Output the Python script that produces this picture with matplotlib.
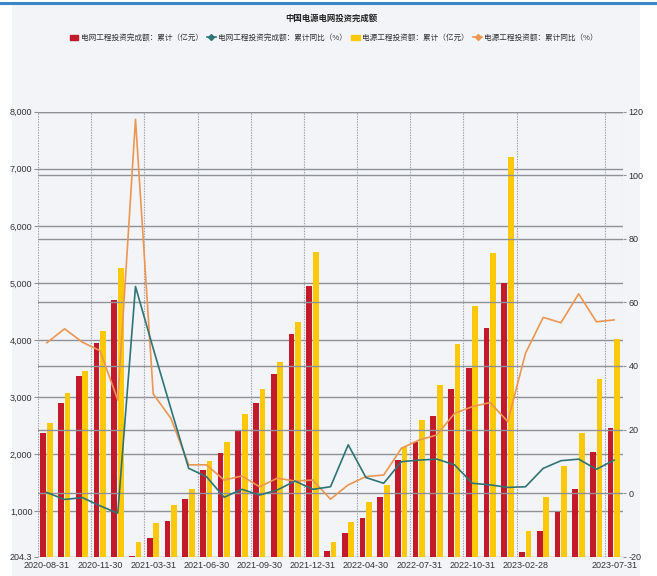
import matplotlib
matplotlib.use("Agg")
import matplotlib.pyplot as plt
from matplotlib.patches import Rectangle
from matplotlib.lines import Line2D
import numpy as np

plt.rcParams['font.family'] = ['Noto Sans CJK SC', 'DejaVu Sans']

dates = ["2020-08-31", "2020-09-30", "2020-10-31", "2020-11-30", "2020-12-31",
         "2021-02-28", "2021-03-31", "2021-04-30", "2021-05-31", "2021-06-30",
         "2021-07-31", "2021-08-31", "2021-09-30", "2021-10-31", "2021-11-30",
         "2021-12-31", "2022-02-28", "2022-03-31", "2022-04-30", "2022-05-31",
         "2022-06-30", "2022-07-31", "2022-08-31", "2022-09-30", "2022-10-31",
         "2022-11-30", "2022-12-31", "2023-02-28", "2023-03-31", "2023-04-30",
         "2023-05-31", "2023-06-30", "2023-07-31"]

grid_inv = [2376, 2891, 3370, 3942, 4701,
            215, 526, 835, 1220, 1723,
            2026, 2406, 2891, 3405, 4100,
            4952, 304, 614, 887, 1255,
            1898, 2219, 2669, 3147, 3504,
            4205, 5004, 292, 654, 981,
            1390, 2044, 2464]

power_inv = [2551, 3077, 3463, 4163, 5256,
             467, 789, 1110, 1385, 1886,
             2219, 2699, 3137, 3620, 4310,
             5547, 456, 807, 1168, 1460,
             2131, 2599, 3212, 3925, 4596,
             5530, 7212, 659, 1255, 1793,
             2376, 3311, 4012]

grid_yoy = [0.2, -2.0, -1.4, -4.0, -6.3,
            65.0, 45.5, 26.5, 7.8, 5.2,
            -1.3, 1.2, -0.6, 1.0, 3.8,
            1.2, 2.0, 15.2, 4.9, 3.1,
            9.9, 10.4, 10.7, 8.9, 3.1,
            2.6, 1.8, 2.0, 7.8, 10.2,
            10.7, 7.5, 10.4]

power_yoy = [47.3, 51.7, 47.5, 44.8, 29.3,
             117.6, 31.2, 23.5, 8.9, 8.9,
             4.1, 5.4, 2.0, 4.7, 3.8,
             4.1, -1.9, 2.6, 5.2, 5.7,
             14.1, 16.7, 18.3, 25.1, 27.2,
             28.5, 22.5, 44.0, 55.3, 53.6,
             62.7, 53.9, 54.5]

title = "中国电源电网投资完成额"
names = ["电网工程投资完成额：累计（亿元）", "电网工程投资完成额：累计同比（%）",
         "电源工程投资额：累计（亿元）", "电源工程投资额：累计同比（%）"]

left_ticks = [204.3, 1000, 2000, 3000, 4000, 5000, 6000, 7000, 8000]
left_labels = ["204.3", "1,000", "2,000", "3,000", "4,000", "5,000", "6,000", "7,000", "8,000"]
right_ticks = [-20, 0, 20, 40, 60, 80, 100, 120]
label_idx = [0, 3, 6, 9, 12, 15, 18, 21, 24, 27, 32]

RED = '#c21a2b'
YEL = '#fcc80a'
TEAL = '#2f7475'
ORG = '#ec9652'
GRID = '#8e9296'
TXT = '#333333'
numfont = ['Liberation Sans Narrow', 'Liberation Sans', 'DejaVu Sans']

W, H = 657, 576
fig = plt.figure(figsize=(W / 100, H / 100), dpi=100)
fig.patch.set_facecolor('white')
fig.patches.append(Rectangle((12 / W, 0), (640 - 12) / W, 1 - 5 / H,
                             transform=fig.transFigure, facecolor='#f2f4f7',
                             edgecolor='none', zorder=0))
fig.lines.append(Line2D([0, 1], [1 - 3 / H, 1 - 3 / H], transform=fig.transFigure,
                        color='#3a86c8', lw=2.2))

x0, x1 = 38, 623
y0, y1 = 111.7, 556.7
ax = fig.add_axes([x0 / W, 1 - y1 / H, (x1 - x0) / W, (y1 - y0) / H])
ax.set_facecolor('none')
ax2 = ax.twinx()

n = len(dates)
x = np.arange(n)
bw = 0.32
ax.bar(x - 0.2, grid_inv, width=bw, color=RED, zorder=3)
ax.bar(x + 0.17, power_inv, width=bw, color=YEL, zorder=3)

ax.set_xlim(-0.5, n - 0.5)
ax.set_ylim(204.3, 8000)
ax2.set_ylim(-20, 120)

ax2.plot(x, power_yoy, color=ORG, lw=1.2, zorder=4)
ax2.plot(x, grid_yoy, color=TEAL, lw=1.2, zorder=4)

# horizontal grids from both axes
for t in left_ticks[1:]:
    ax.axhline(t, color=GRID, lw=1.0, zorder=1)
for t in right_ticks[1:]:
    ax2.axhline(t, color=GRID, lw=1.0, zorder=0)
ax.axhline(204.3, color=GRID, lw=1.0, zorder=1)

# vertical dotted grid
vpos = [i - 0.5 for i in label_idx] + [n - 0.5]
for v in vpos:
    ax.axvline(v, color='#9a9ea3', lw=0.8, ls=(0, (1.2, 1.2)), zorder=1)

for a in (ax, ax2):
    for s in a.spines.values():
        s.set_visible(False)

ax.set_yticks(left_ticks)
ax.set_yticklabels(left_labels, fontsize=6.5, color=TXT, family=numfont)
ax.tick_params(axis='y', length=3, color=GRID, pad=1)
ax2.set_yticks(right_ticks)
ax2.set_yticklabels([str(t) for t in right_ticks], fontsize=6.5, color=TXT, family=numfont)
ax2.tick_params(axis='y', length=2, color=GRID, pad=2)

ax.set_xticks(label_idx)
ax.set_xticklabels([dates[i] for i in label_idx], fontsize=6.5, color=TXT, family=numfont)
ax.tick_params(axis='x', length=0, pad=3)

ax.set_zorder(2)
ax2.set_zorder(3)
ax2.patch.set_visible(False)

fig.text(0.505, 1 - 18 / H, title, ha='center', va='center', fontsize=6,
         fontweight='bold', color='#222222')

handles = [Rectangle((0, 0), 1, 1, color=RED),
           Line2D([], [], color=TEAL, lw=1.2, marker='D', markersize=3),
           Rectangle((0, 0), 1, 1, color=YEL),
           Line2D([], [], color=ORG, lw=1.2, marker='D', markersize=3)]
fig.legend(handles, names, loc='center', bbox_to_anchor=(0.508, 1 - 38 / H),
           ncol=4, frameon=False, fontsize=5.5, handlelength=1.1, handletextpad=0.3,
           columnspacing=0.6, labelcolor='#333333')

fig.savefig('out.png', dpi=100)
